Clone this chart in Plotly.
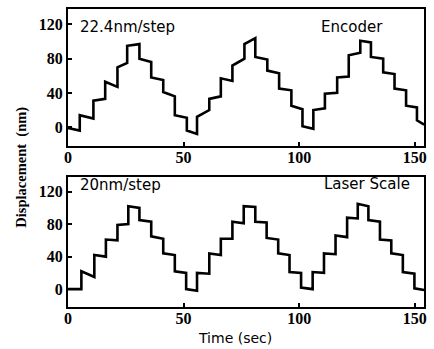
import plotly.graph_objects as go

# ---- data (step transitions, level at start/end of each plateau) ----
enc_step_t = [0, 5.1, 11.0, 16.1, 21.4, 25.6, 30.9, 36.0, 41.2, 46.2, 51.4, 55.8, 61.1, 66.1, 71.1,
              76.3, 81.0, 86.2, 91.3, 96.6, 101.4, 106.1, 111.1, 116.4, 121.4, 126.4, 131.0,
              136.3, 141.2, 146.2, 150.9, 154]
enc_start = [-1, 14, 31, 53, 70, 95, 80, 58, 41, 14, -4, 12, 33, 57, 72, 97, 82, 66, 45, 25, 1,
             20, 39, 58, 84, 101, 82, 64, 45, 25, 8]
enc_end = [-4, 10, 33, 47, 75, 97, 76, 55, 36, 11, -8, 20, 36, 54, 80, 104, 79, 63, 43, 21, -2,
           22, 40, 59, 87, 99, 80, 62, 43, 23, 3]

las_step_t = [0, 5.8, 11.4, 16.4, 21.4, 26.1, 30.9, 36.0, 41.2, 46.2, 51.1, 55.8, 61.1, 66.1, 71.1,
              76.0, 81.0, 85.9, 90.9, 95.8, 100.8, 105.8, 110.7, 115.7, 120.7, 125.3, 129.9,
              134.9, 139.8, 144.8, 149.8, 154]
las_start = [0, 22, 42, 61, 79, 102, 85, 65, 44, 22, 0, 20, 44, 62, 83, 102, 83, 63, 44, 21, 2,
             21, 44, 66, 88, 105, 85, 61, 44, 21, 1]
las_end = [0, 15, 40, 60, 80, 100, 83, 62, 42, 20, -2, 19, 42, 62, 81, 101, 82, 61, 42, 20, 0,
           20, 43, 64, 87, 102, 83, 60, 42, 19, -1]

x_ticks = [0, 50, 100, 150]
y_ticks = [0, 40, 80, 120]


def vertices(step_t, start, end):
    xs, ys = [], []
    for i in range(len(start)):
        xs += [step_t[i], step_t[i + 1]]
        ys += [start[i], end[i]]
    return xs, ys


fig = go.Figure()
ex, ey = vertices(enc_step_t, enc_start, enc_end)
lx, ly = vertices(las_step_t, las_start, las_end)
fig.add_trace(go.Scatter(x=ex, y=ey, mode="lines", line=dict(color="black", width=2.6),
                         xaxis="x", yaxis="y", showlegend=False, hoverinfo="skip"))
fig.add_trace(go.Scatter(x=lx, y=ly, mode="lines", line=dict(color="black", width=2.6),
                         xaxis="x2", yaxis="y2", showlegend=False, hoverinfo="skip"))

tickfont = dict(family="Liberation Serif", size=16, color="black", weight="bold")
xdom = [0.1498, 0.9839]
common_x = dict(range=[0, 154], tickvals=x_ticks, ticks="inside", ticklen=4, tickwidth=1.5,
                tickcolor="black", showline=True, linecolor="black", linewidth=1.8, mirror=True,
                showgrid=False, zeroline=False, tickfont=tickfont, domain=xdom,
                ticklabelstandoff=-4)
common_y = dict(range=[-22, 138], tickvals=y_ticks, ticks="inside", ticklen=4, tickwidth=1.5,
                tickcolor="black", showline=True, linecolor="black", linewidth=1.8, mirror=True,
                showgrid=False, zeroline=False, tickfont=tickfont)

fig.update_layout(
    width=434, height=349, margin=dict(l=0, r=0, t=0, b=0),
    paper_bgcolor="white", plot_bgcolor="white",
    xaxis=dict(common_x, anchor="y"),
    yaxis=dict(common_y, domain=[0.5817, 0.9742], anchor="x"),
    xaxis2=dict(common_x, anchor="y2"),
    yaxis2=dict(common_y, domain=[0.1203, 0.4928], anchor="x2"),
)

ann = [
    dict(text="22.4nm/step", x=75, y=27, xanchor="left", size=15),
    dict(text="Encoder", x=354, y=27, xanchor="center", size=15),
    dict(text="20nm/step", x=75, y=185, xanchor="left", size=15),
    dict(text="Laser Scale", x=369, y=184, xanchor="center", size=15),
    dict(text="Time (sec)", x=235, y=338, xanchor="center", size=14),
]
for a in ann:
    fig.add_annotation(text=a["text"], xref="paper", yref="paper", x=a["x"] / 434,
                       y=1 - a["y"] / 349, xanchor=a["xanchor"], yanchor="middle",
                       showarrow=False,
                       font=dict(family="DejaVu Sans", size=a["size"], color="black"))
fig.add_annotation(text="Displacement  (nm)", xref="paper", yref="paper", x=18 / 434,
                   y=1 - 167 / 349, xanchor="center", yanchor="middle", textangle=-90,
                   showarrow=False,
                   font=dict(family="Liberation Serif", size=14.5, color="black", weight="bold"))

fig.write_html("out.html", config={"displayModeBar": False},
               post_script="document.body.style.margin='0';document.body.style.overflow='hidden';")
